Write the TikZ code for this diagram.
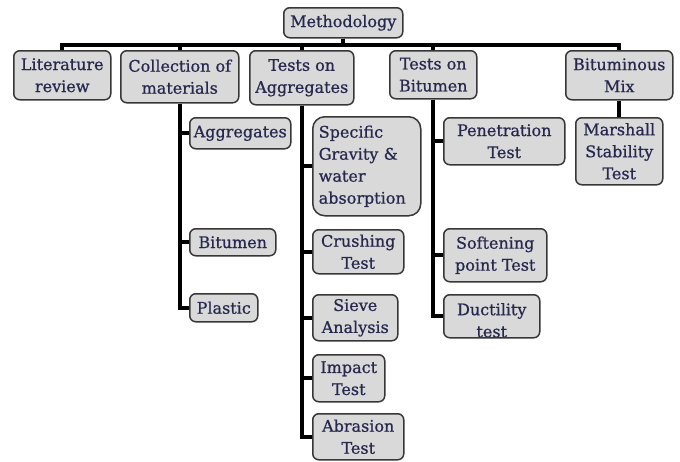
\documentclass[tikz,border=0pt]{standalone}
\usepackage{fontspec}
\setmainfont{DejaVu Serif}
\newfontfamily\boxfamily{DejaVu Serif}[FakeBold=0.7]
\usepackage{tikz}

\definecolor{boxfill}{RGB}{217,217,217}
\definecolor{boxline}{RGB}{55,55,55}
\definecolor{boxtext}{RGB}{38,40,78}
\newcommand{\boxfont}{\boxfamily\fontsize{16}{22}\selectfont}

\begin{document}
\begin{tikzpicture}[x=1pt,y=-1pt,
		box/.style={draw=boxline, line width=1.5pt, fill=boxfill, rounded corners=6pt, text=boxtext, align=center, inner sep=2pt, anchor=north west, font=\boxfont},
		conn/.style={line width=4pt, black}]
			\useasboundingbox (0,0) rectangle (680,461);
			\node[box, minimum width=119, minimum height=30] (meth) at (283,7) {Methodology};
			\node[box, minimum width=97, minimum height=49] (lit) at (13,50) {Literature\\review};
			\node[box, minimum width=118, minimum height=52] (coll) at (120,50) {Collection of\\materials};
			\node[box, minimum width=104, minimum height=54] (aggr) at (249,50) {Tests on\\Aggregates};
			\node[box, minimum width=87, minimum height=48] (bitu) at (389,50) {Tests on\\Bitumen};
			\node[box, minimum width=107, minimum height=49] (mix) at (565,50) {Bituminous\\Mix};
			\node[box, minimum width=87, minimum height=67] (marsh) at (575,117) {Marshall\\Stability\\Test};
			\node[box, minimum width=101, minimum height=31] (agg) at (189,117) {Aggregates};
			\node[box, minimum width=86, minimum height=27] (bit) at (189,228) {Bitumen};
			\node[box, minimum width=68, minimum height=28] (plas) at (189,293) {Plastic};
			\node[box, rounded corners=12pt, text width=96, align=left, inner sep=6pt, minimum height=99] (spec) at (312,116) {Specific\\Gravity \&\\water\\absorption};
			\node[box, minimum width=91, minimum height=44] (crush) at (312,229) {Crushing\\Test};
			\node[box, minimum width=85, minimum height=46] (sieve) at (312,294) {Sieve\\Analysis};
			\node[box, minimum width=72, minimum height=47] (impact) at (312,354) {Impact\\Test};
			\node[box, minimum width=91, minimum height=46] (abr) at (312,413) {Abrasion\\Test};
			\node[box, minimum width=121, minimum height=47] (pen) at (443,117) {Penetration\\Test};
			\node[box, minimum width=103, minimum height=53] (soft) at (443,228) {Softening\\point Test};
			\node[box, minimum width=96, minimum height=43, path picture={
				\node[anchor=center, inner sep=0pt, text=boxtext, align=center, font=\boxfont] at ([yshift=-4pt]path picture bounding box.center) {Ductility\\test};}] (duct) at (443,294) {};
			% top level
			\foreach \n in {lit,coll,aggr,bitu,mix}
				\draw[conn] (meth.south) -- ++(0,6) -| (\n.north);
			% second level
			\foreach \n in {agg,bit,plas}
				\draw[conn] (coll.south) |- (\n.west);
			\foreach \n in {spec,crush,sieve,impact,abr}
				\draw[conn] (aggr.south) |- (\n.west);
			\foreach \n in {pen,soft,duct}
				\draw[conn] (bitu.south) |- (\n.west);
			\draw[conn] (mix.south) -- (marsh.north);
		\end{tikzpicture}
\end{document}
